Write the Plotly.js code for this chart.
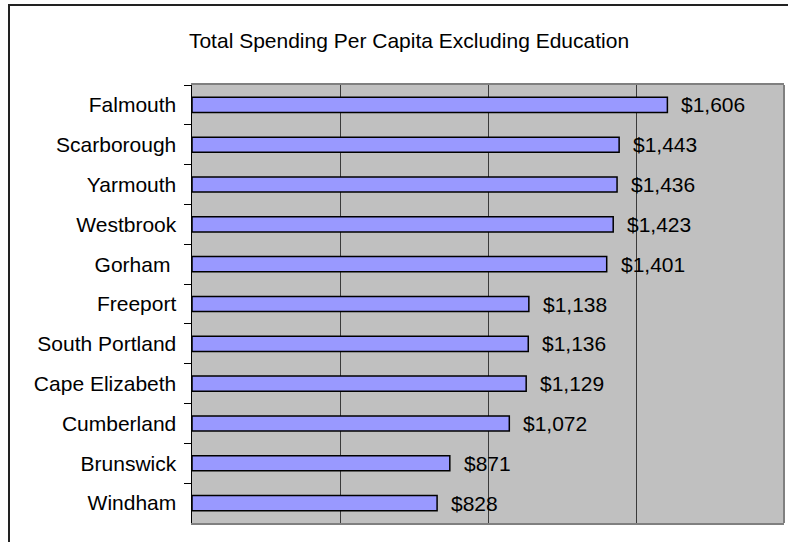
<!DOCTYPE html>
<html>
<head>
<meta charset="utf-8">
<script src="https://cdn.plot.ly/plotly-3.0.1.min.js"></script>
<style>
  html, body { margin: 0; padding: 0; background: #ffffff; }
  #wrap { position: relative; width: 788px; height: 542px; overflow: hidden; }
  #frame { position: absolute; left: 8px; top: 4px; width: 900px; height: 700px; border: 2px solid #222222; box-sizing: border-box; }
  #chart { position: absolute; left: 0; top: 0; width: 788px; height: 542px; }
</style>
</head>
<body>
<div id="wrap">
  <div id="frame"></div>
  <div id="chart"></div>
</div>
<script>
const towns = ["Falmouth", "Scarborough", "Yarmouth", "Westbrook", "Gorham\u00a0", "Freeport",
               "South Portland", "Cape Elizabeth", "Cumberland", "Brunswick", "Windham"];
const spending = [1606, 1443, 1436, 1423, 1401, 1138, 1136, 1129, 1072, 871, 828];
const valueLabels = spending.map(v => "$" + v.toLocaleString("en-US"));
const chartTitle = "Total Spending Per Capita Excluding Education";

const font = "Liberation Sans, Arial, sans-serif";

const trace = {
  type: "bar",
  orientation: "h",
  y: towns,
  x: spending,
  width: 0.38,
  marker: { color: "#9999FF", line: { color: "#000000", width: 1.5 } },
  hoverinfo: "none"
};

const annotations = towns.map((t, i) => ({
  x: spending[i], y: t, xref: "x", yref: "y",
  text: valueLabels[i], showarrow: false,
  xanchor: "left", yanchor: "middle", xshift: 12, yshift: 0,
  font: { family: font, size: 21, color: "#000000" }
}));

const layout = {
  width: 788, height: 542,
  margin: { l: 192, r: 4, t: 85, b: 19, pad: 0 },
  paper_bgcolor: "rgba(0,0,0,0)",
  plot_bgcolor: "#C0C0C0",
  showlegend: false,
  title: {
    text: chartTitle,
    font: { family: font, size: 21, color: "#000000" },
    x: 409 / 788, xref: "container", xanchor: "center",
    y: 1 - 41 / 542, yref: "container", yanchor: "middle"
  },
  xaxis: {
    range: [0, 2000], dtick: 500, tick0: 0,
    showticklabels: false, ticks: "",
    showgrid: true, gridcolor: "#3a3a3a", gridwidth: 1,
    zeroline: false,
    showline: true, linecolor: "#808080", linewidth: 2, mirror: true
  },
  yaxis: {
    type: "category", autorange: "reversed",
    ticks: "outside", tickson: "boundaries", ticklen: 7, tickcolor: "#000000", tickwidth: 1,
    showgrid: false, zeroline: false,
    showline: true, linecolor: "#000000", linewidth: 1.5,
    tickfont: { family: font, size: 21, color: "#000000" },
    ticklabelstandoff: 10
  },
  shapes: [{
    type: "line", xref: "paper", yref: "paper", x0: 1, x1: 1, y0: 0, y1: 1,
    line: { color: "#808080", width: 2 }, layer: "above"
  }],
  annotations: annotations
};

Plotly.newPlot("chart", [trace], layout, { displayModeBar: false, staticPlot: true });
</script>
</body>
</html>
